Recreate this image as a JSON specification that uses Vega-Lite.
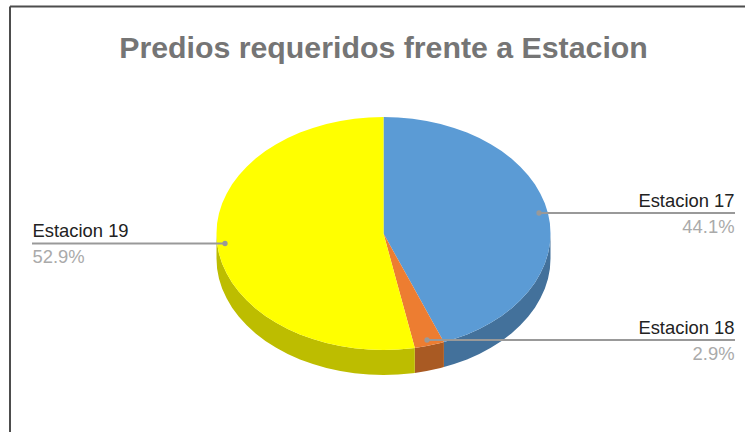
{
"$schema":"https://vega.github.io/schema/vega-lite/v6.json",
"width":745,"height":432,"padding":0,"autosize":{"type":"none"},"background":"white",
"title":{"text":"Predios requeridos frente a Estacion","anchor":"middle","frame":"group","orient":"top","offset":0,"dy":88,"dx":11,"baseline":"alphabetic","font":"Liberation Sans","fontSize":30.3,"fontWeight":"bold","color":"#757575"},
"config":{"view":{"stroke":null}},
"datasets":{
"sectors":[
{"part":"Estacion 17 lateral","x":60.4,"y":108.6,"y2":133.6},{"part":"Estacion 17 lateral","x":70.6,"y":105.6,"y2":130.6},{"part":"Estacion 17 lateral","x":83.5,"y":100.9,"y2":125.9},{"part":"Estacion 17 lateral","x":95.8,"y":95.4,"y2":120.4},{"part":"Estacion 17 lateral","x":107.3,"y":89.2,"y2":114.2},{"part":"Estacion 17 lateral","x":118.1,"y":82.4,"y2":107.4},{"part":"Estacion 17 lateral","x":127.9,"y":74.9,"y2":99.9},{"part":"Estacion 17 lateral","x":136.8,"y":66.8,"y2":91.8},{"part":"Estacion 17 lateral","x":144.6,"y":58.3,"y2":83.3},{"part":"Estacion 17 lateral","x":151.4,"y":49.2,"y2":74.2},{"part":"Estacion 17 lateral","x":156.9,"y":39.8,"y2":64.8},{"part":"Estacion 17 lateral","x":161.3,"y":30.2,"y2":55.2},{"part":"Estacion 17 lateral","x":164.5,"y":20.2,"y2":45.2},{"part":"Estacion 17 lateral","x":166.4,"y":10.2,"y2":35.2},{"part":"Estacion 17 lateral","x":167,"y":0,"y2":25},
{"part":"Estacion 18 lateral","x":31.3,"y":114.4,"y2":139.4},{"part":"Estacion 18 lateral","x":43.2,"y":112.5,"y2":137.5},{"part":"Estacion 18 lateral","x":57.1,"y":109.5,"y2":134.5},{"part":"Estacion 18 lateral","x":60.4,"y":108.6,"y2":133.6},
{"part":"Estacion 19 lateral","x":-167,"y":0,"y2":25},{"part":"Estacion 19 lateral","x":-166.4,"y":10.2,"y2":35.2},{"part":"Estacion 19 lateral","x":-164.5,"y":20.2,"y2":45.2},{"part":"Estacion 19 lateral","x":-161.3,"y":30.2,"y2":55.2},{"part":"Estacion 19 lateral","x":-156.9,"y":39.8,"y2":64.8},{"part":"Estacion 19 lateral","x":-151.4,"y":49.2,"y2":74.2},{"part":"Estacion 19 lateral","x":-144.6,"y":58.3,"y2":83.3},{"part":"Estacion 19 lateral","x":-136.8,"y":66.8,"y2":91.8},{"part":"Estacion 19 lateral","x":-127.9,"y":74.9,"y2":99.9},{"part":"Estacion 19 lateral","x":-118.1,"y":82.4,"y2":107.4},{"part":"Estacion 19 lateral","x":-107.3,"y":89.2,"y2":114.2},{"part":"Estacion 19 lateral","x":-95.8,"y":95.4,"y2":120.4},{"part":"Estacion 19 lateral","x":-83.5,"y":100.9,"y2":125.9},{"part":"Estacion 19 lateral","x":-70.6,"y":105.6,"y2":130.6},{"part":"Estacion 19 lateral","x":-57.1,"y":109.5,"y2":134.5},{"part":"Estacion 19 lateral","x":-43.2,"y":112.5,"y2":137.5},{"part":"Estacion 19 lateral","x":-29,"y":114.7,"y2":139.7},{"part":"Estacion 19 lateral","x":-14.6,"y":116.1,"y2":141.1},{"part":"Estacion 19 lateral","x":0,"y":116.5,"y2":141.5},{"part":"Estacion 19 lateral","x":14.6,"y":116.1,"y2":141.1},{"part":"Estacion 19 lateral","x":29,"y":114.7,"y2":139.7},{"part":"Estacion 19 lateral","x":31.3,"y":114.4,"y2":139.4},
{"part":"Estacion 17","x":0,"y":-116.5,"y2":0},{"part":"Estacion 17","x":14.6,"y":-116.1,"y2":26.3},{"part":"Estacion 17","x":29,"y":-114.7,"y2":52.1},{"part":"Estacion 17","x":43.2,"y":-112.5,"y2":77.7},{"part":"Estacion 17","x":57.1,"y":-109.5,"y2":102.7},{"part":"Estacion 17","x":60.4,"y":-108.6,"y2":108.6},{"part":"Estacion 17","x":70.6,"y":-105.6,"y2":105.6},{"part":"Estacion 17","x":83.5,"y":-100.9,"y2":100.9},{"part":"Estacion 17","x":95.8,"y":-95.4,"y2":95.4},{"part":"Estacion 17","x":107.3,"y":-89.2,"y2":89.2},{"part":"Estacion 17","x":118.1,"y":-82.4,"y2":82.4},{"part":"Estacion 17","x":127.9,"y":-74.9,"y2":74.9},{"part":"Estacion 17","x":136.8,"y":-66.8,"y2":66.8},{"part":"Estacion 17","x":144.6,"y":-58.3,"y2":58.3},{"part":"Estacion 17","x":151.4,"y":-49.2,"y2":49.2},{"part":"Estacion 17","x":156.9,"y":-39.8,"y2":39.8},{"part":"Estacion 17","x":161.3,"y":-30.2,"y2":30.2},{"part":"Estacion 17","x":164.5,"y":-20.2,"y2":20.2},{"part":"Estacion 17","x":166.4,"y":-10.2,"y2":10.2},{"part":"Estacion 17","x":167,"y":0,"y2":0},
{"part":"Estacion 18","x":0,"y":0,"y2":0},{"part":"Estacion 18","x":14.6,"y":26.3,"y2":53.4},{"part":"Estacion 18","x":29,"y":52.1,"y2":106},{"part":"Estacion 18","x":31.3,"y":56.3,"y2":114.4},{"part":"Estacion 18","x":43.2,"y":77.7,"y2":112.5},{"part":"Estacion 18","x":57.1,"y":102.7,"y2":109.5},{"part":"Estacion 18","x":60.4,"y":108.6,"y2":108.6},
{"part":"Estacion 19","x":-167,"y":0,"y2":0},{"part":"Estacion 19","x":-166.4,"y":-10.2,"y2":10.2},{"part":"Estacion 19","x":-164.5,"y":-20.2,"y2":20.2},{"part":"Estacion 19","x":-161.3,"y":-30.2,"y2":30.2},{"part":"Estacion 19","x":-156.9,"y":-39.8,"y2":39.8},{"part":"Estacion 19","x":-151.4,"y":-49.2,"y2":49.2},{"part":"Estacion 19","x":-144.6,"y":-58.3,"y2":58.3},{"part":"Estacion 19","x":-136.8,"y":-66.8,"y2":66.8},{"part":"Estacion 19","x":-127.9,"y":-74.9,"y2":74.9},{"part":"Estacion 19","x":-118.1,"y":-82.4,"y2":82.4},{"part":"Estacion 19","x":-107.3,"y":-89.2,"y2":89.2},{"part":"Estacion 19","x":-95.8,"y":-95.4,"y2":95.4},{"part":"Estacion 19","x":-83.5,"y":-100.9,"y2":100.9},{"part":"Estacion 19","x":-70.6,"y":-105.6,"y2":105.6},{"part":"Estacion 19","x":-57.1,"y":-109.5,"y2":109.5},{"part":"Estacion 19","x":-43.2,"y":-112.5,"y2":112.5},{"part":"Estacion 19","x":-29,"y":-114.7,"y2":114.7},{"part":"Estacion 19","x":-14.6,"y":-116.1,"y2":116.1},{"part":"Estacion 19","x":0,"y":-116.5,"y2":116.5},{"part":"Estacion 19","x":0.1,"y":0.4,"y2":116.5},{"part":"Estacion 19","x":14.6,"y":53.4,"y2":116.1},{"part":"Estacion 19","x":29,"y":106,"y2":114.7},{"part":"Estacion 19","x":31.3,"y":114.4,"y2":114.4}
],
"leaders":[
{"name":"Estacion 17","x":155.5,"x2":351.5,"y":-20.5},
{"name":"Estacion 18","x":43.5,"x2":351.5,"y":106.5},
{"name":"Estacion 19","x":-158.5,"x2":-351.5,"y":10}
],
"labelsRight":[
{"text":"Estacion 17","x":351,"y":-27},
{"text":"Estacion 18","x":351,"y":100}
],
"labelsLeft":[
{"text":"Estacion 19","x":-351,"y":3}
],
"valuesRight":[
{"text":"44.1%","x":351,"y":-1},
{"text":"2.9%","x":351,"y":126}
],
"valuesLeft":[
{"text":"52.9%","x":-351,"y":29}
],
"frameTop":[{"x":-373.5,"x2":361.5,"y":-227}],
"frameLeft":[{"x":-373.5,"y":-227,"y2":198.5}]
},
"encoding":{
"x":{"field":"x","type":"quantitative","axis":null,"scale":{"domain":[-383.5,361.5],"nice":false,"zero":false}},
"y":{"field":"y","type":"quantitative","axis":null,"scale":{"domain":[-233.5,198.5],"range":[0,432],"nice":false,"zero":false},"stack":null}
},
"layer":[
{"data":{"name":"frameTop"},"mark":{"type":"rule","color":"#4d4d4d","strokeWidth":2},"encoding":{"x2":{"field":"x2"}}},
{"data":{"name":"frameLeft"},"mark":{"type":"rule","color":"#4d4d4d","strokeWidth":2},"encoding":{"y2":{"field":"y2"}}},
{"data":{"name":"sectors"},"mark":{"type":"area","interpolate":"linear","opacity":1,"clip":false},
"encoding":{"y2":{"field":"y2"},"color":{"field":"part","type":"nominal","legend":null,"scale":{"domain":["Estacion 17","Estacion 18","Estacion 19","Estacion 17 lateral","Estacion 18 lateral","Estacion 19 lateral"],"range":["#5b9bd5","#ed7d31","#ffff00","#43719b","#a95a23","#bdbd00"]}}}},
{"data":{"name":"leaders"},"mark":{"type":"rule","color":"#999999","strokeWidth":2},"encoding":{"x2":{"field":"x2"}}},
{"data":{"name":"leaders"},"mark":{"type":"point","filled":true,"size":28,"color":"#999999","opacity":1}},
{"data":{"name":"labelsRight"},"mark":{"type":"text","font":"Liberation Sans","fontSize":18.4,"color":"#222222","baseline":"alphabetic","align":"right"},"encoding":{"text":{"field":"text"}}},
{"data":{"name":"labelsLeft"},"mark":{"type":"text","font":"Liberation Sans","fontSize":18.4,"color":"#222222","baseline":"alphabetic","align":"left"},"encoding":{"text":{"field":"text"}}},
{"data":{"name":"valuesRight"},"mark":{"type":"text","font":"Liberation Sans","fontSize":18.4,"color":"#aaaaaa","baseline":"alphabetic","align":"right"},"encoding":{"text":{"field":"text"}}},
{"data":{"name":"valuesLeft"},"mark":{"type":"text","font":"Liberation Sans","fontSize":18.4,"color":"#aaaaaa","baseline":"alphabetic","align":"left"},"encoding":{"text":{"field":"text"}}}
]
}
